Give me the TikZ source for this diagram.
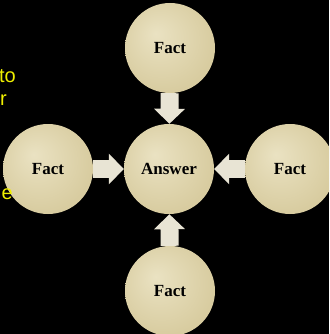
\documentclass[tikz,border=0pt]{standalone}
\usepackage{fontspec}
\usepackage{tikz}
\usetikzlibrary{arrows.meta, backgrounds}
\newfontfamily\slidefont{Liberation Sans}
\newfontfamily\ballfont{Liberation Serif}

\definecolor{factlight}{RGB}{234,226,194}
\definecolor{factmid}{RGB}{216,204,160}
\definecolor{factdark}{RGB}{176,160,110}
\definecolor{blockarrow}{RGB}{232,228,212}
\definecolor{slideyellow}{RGB}{240,240,0}

\pgfdeclareradialshading{factball}{\pgfpoint{-8bp}{8bp}}{color(0bp)=(factlight); color(28bp)=(factmid); color(46bp)=(factmid!85!factdark); color(52bp)=(factdark)}

\tikzset{
    fact/.style={circle, shading=factball, minimum size=90pt, inner sep=0pt,
        font=\ballfont\fontsize{17}{19}\selectfont\bfseries},
    push/.style={line width=18pt, draw=blockarrow, -{Triangle[length=15pt, width=30pt]}},
    cutoff/.style={anchor=base east, text=slideyellow, inner sep=0pt,
        font=\slidefont\fontsize{20}{23}\selectfont}
}

\begin{document}
\begin{tikzpicture}[x=1pt, y=-1pt]
            \useasboundingbox (0,0) rectangle (329,334);
            \clip (0,0) rectangle (329,334);

            \node[fact] at (170, 48)   (top) {Fact};
            \node[fact] at (169, 169)  (ans) {Answer};
            \node[fact] at (48, 169)   (left) {Fact};
            \node[fact] at (290, 169)  (right) {Fact};
            \node[fact] at (170, 291)  (bottom) {Fact};

            % text of the slide behind, cut at the edge
            \node[cutoff] at (16, 83)  (t1) {to};
            \node[cutoff] at (7, 106)  (t2) {r};
            \node[cutoff] at (13, 199) (t3) {e};

            \begin{scope}[on background layer]
            \fill[black] (0,0) rectangle (329,334);
            \draw [push] (top) -- (ans);
            \draw [push] (left) -- (ans);
            \draw [push] (right) -- (ans);
            \draw [push] (bottom) -- (ans);
            \end{scope}
        \end{tikzpicture}
\end{document}
